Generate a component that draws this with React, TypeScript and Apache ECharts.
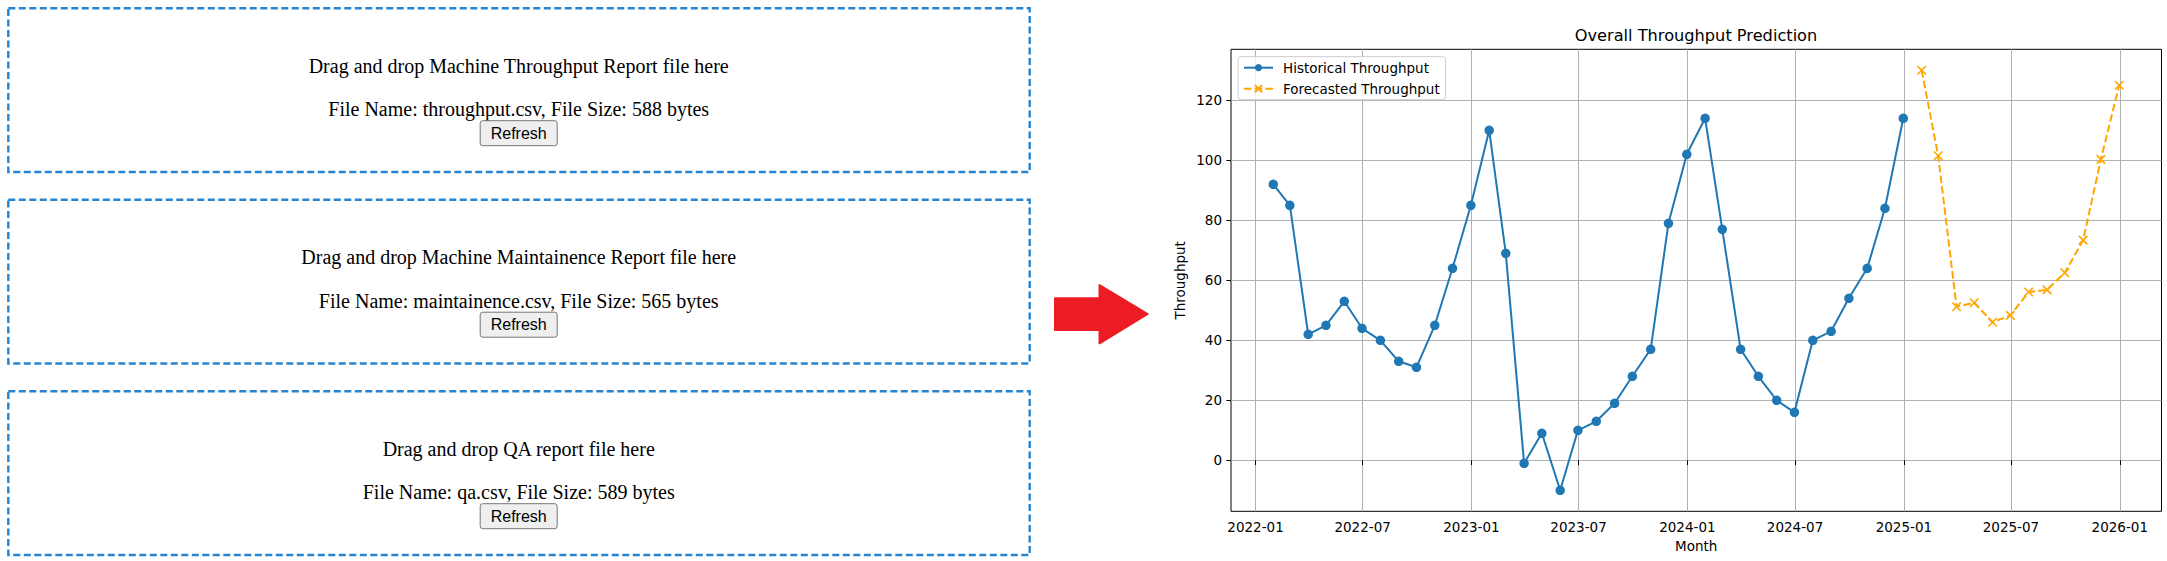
import React, { useEffect, useRef } from "react";
import * as echarts from "echarts";

// ---- Data ----
const histMonths = [
  "2022-01", "2022-02", "2022-03", "2022-04", "2022-05", "2022-06",
  "2022-07", "2022-08", "2022-09", "2022-10", "2022-11", "2022-12",
  "2023-01", "2023-02", "2023-03", "2023-04", "2023-05", "2023-06",
  "2023-07", "2023-08", "2023-09", "2023-10", "2023-11", "2023-12",
  "2024-01", "2024-02", "2024-03", "2024-04", "2024-05", "2024-06",
  "2024-07", "2024-08", "2024-09", "2024-10", "2024-11", "2024-12",
];
const histValues = [
  92, 85, 42, 45, 53, 44, 40, 33, 31, 45, 64, 85,
  110, 69, -1, 9, -10, 10, 13, 19, 28, 37, 79, 102,
  114, 77, 37, 28, 20, 16, 40, 43, 54, 64, 84, 114,
];
const forecastMonths = [
  "2025-01", "2025-02", "2025-03", "2025-04", "2025-05", "2025-06",
  "2025-07", "2025-08", "2025-09", "2025-10", "2025-11", "2025-12",
];
const forecastValues = [130, 101.5, 51.2, 52.5, 46, 48.3, 56.1, 56.8, 62.5, 73.4, 100.3, 125];

const xTickLabels = [
  "2022-01", "2022-07", "2023-01", "2023-07", "2024-01",
  "2024-07", "2025-01", "2025-07", "2026-01",
];
const yTicks = [0, 20, 40, 60, 80, 100, 120];

const uploadTitles = [
  "Drag and drop Machine Throughput Report file here",
  "Drag and drop Machine Maintainence Report file here",
  "Drag and drop QA report file here",
];
const uploadFiles = ["throughput.csv", "maintainence.csv", "qa.csv"];
const uploadSizes = [588, 565, 589];

const monthEnd = (ym: string) => {
  const [y, m] = ym.split("-").map(Number);
  return Date.UTC(y, m, 0);
};
const monthStart = (ym: string) => {
  const [y, m] = ym.split("-").map(Number);
  return Date.UTC(y, m - 1, 1);
};
const fmt = (v: number) => {
  const d = new Date(v);
  return `${d.getUTCFullYear()}-${String(d.getUTCMonth() + 1).padStart(2, "0")}`;
};

export default function App() {
  const ref = useRef<HTMLDivElement>(null);
  useEffect(() => {
    if (!ref.current) return;
    const chart = echarts.init(ref.current, undefined, { renderer: "svg" });

    const histData = histMonths.map((m, i) => [monthEnd(m), histValues[i]]);
    const fcData = forecastMonths.map((m, i) => [monthEnd(m), forecastValues[i]]);
    const first = histData[0][0] as number;
    const last = fcData[fcData.length - 1][0] as number;
    const span = last - first;
    const xMin = first - 0.05 * span;
    const xMax = last + 0.05 * span;
    const xTicks = xTickLabels.map(monthStart);

    const allVals = histValues.concat(forecastValues);
    const vMin = Math.min(...allVals);
    const vMax = Math.max(...allVals);
    const yMin = vMin - 0.05 * (vMax - vMin);
    const yMax = vMax + 0.05 * (vMax - vMin);

    const font = "DejaVu Sans";
    const graphics: any[] = [];
    const tops = [8.3, 199.8, 391.3];
    const cx = 518.7;
    uploadTitles.forEach((t, i) => {
      const top = tops[i];
      graphics.push({
        type: "rect",
        shape: { x: 8.3, y: top, width: 1021.4, height: 163.7 },
        style: { fill: "none", stroke: "#2784d0", lineWidth: 2.4, lineDash: [7, 3.5] },
      });
      graphics.push({
        type: "text",
        x: cx,
        y: top + 57.5,
        style: {
          text: t,
          align: "center",
          verticalAlign: "middle",
          fontSize: 20,
          fontFamily: "Liberation Serif",
          fill: "#000",
        },
      });
      graphics.push({
        type: "text",
        x: cx,
        y: top + 100.8,
        style: {
          text: `File Name: ${uploadFiles[i]}, File Size: ${uploadSizes[i]} bytes`,
          align: "center",
          verticalAlign: "middle",
          fontSize: 20,
          fontFamily: "Liberation Serif",
          fill: "#000",
        },
      });
      graphics.push({
        type: "rect",
        shape: { x: cx - 38.5, y: top + 112.4, width: 77, height: 25, r: 2.5 },
        style: { fill: "#efefef", stroke: "#767676", lineWidth: 1 },
      });
      graphics.push({
        type: "text",
        x: cx,
        y: top + 125,
        style: {
          text: "Refresh",
          align: "center",
          verticalAlign: "middle",
          fontSize: 16,
          fontFamily: "Liberation Sans",
          fill: "#000",
        },
      });
    });
    graphics.push({
      type: "polygon",
      shape: {
        points: [
          [1055, 298.3], [1099.5, 298.3], [1099.5, 285], [1147.7, 314],
          [1099.5, 343.3], [1099.5, 330], [1055, 330],
        ],
      },
      style: { fill: "#ed1c24", stroke: "#ed1c24", lineWidth: 2, lineJoin: "round" },
    });
    graphics.push({
      type: "text",
      x: 1696,
      y: 35,
      style: {
        text: "Overall Throughput Prediction",
        align: "center",
        verticalAlign: "middle",
        fontSize: 16.2,
        fontFamily: font,
        fill: "#000",
      },
    });

    chart.setOption({
      animation: false,
      backgroundColor: "#ffffff",
      grid: {
        left: 1231,
        right: 5.5,
        top: 49.3,
        bottom: 49.7,
        show: true,
        borderColor: "#000",
        borderWidth: 1,
        backgroundColor: "transparent",
        containLabel: false,
      },
      legend: {
        data: ["Historical Throughput", "Forecasted Throughput"],
        orient: "vertical",
        left: 1238,
        top: 56.7,
        itemWidth: 29,
        itemHeight: 9,
        itemGap: 7,
        padding: [4, 6, 4, 5],
        backgroundColor: "rgba(255,255,255,0.8)",
        borderColor: "#cccccc",
        borderWidth: 1,
        borderRadius: 3,
        textStyle: { fontSize: 13.5, fontFamily: font, color: "#000", padding: [0, 0, 0, 5] },
      },
      xAxis: {
        type: "value",
        min: xMin,
        max: xMax,
        name: "Month",
        nameLocation: "middle",
        nameGap: 28,
        nameTextStyle: { fontSize: 13.5, fontFamily: font, color: "#000" },
        axisLine: { show: false },
        axisTick: { show: true, customValues: xTicks, length: 4.7, lineStyle: { color: "#000", width: 1 } },
        axisLabel: {
          customValues: xTicks,
          formatter: (v: number) => fmt(v),
          fontSize: 13.5,
          fontFamily: font,
          color: "#000",
          margin: 9,
        },
        splitLine: { show: true, lineStyle: { color: "#b0b0b0", width: 1 } },
      },
      yAxis: {
        type: "value",
        min: yMin,
        max: yMax,
        name: "Throughput",
        nameLocation: "middle",
        nameGap: 44,
        nameTextStyle: { fontSize: 13.5, fontFamily: font, color: "#000" },
        axisLine: { show: false },
        axisTick: { show: true, customValues: yTicks, length: 4.7, lineStyle: { color: "#000", width: 1 } },
        axisLabel: {
          customValues: yTicks,
          fontSize: 13.5,
          fontFamily: font,
          color: "#000",
          margin: 9,
        },
        splitLine: { show: true, lineStyle: { color: "#b0b0b0", width: 1 } },
      },
      series: [
        {
          name: "Historical Throughput",
          type: "line",
          data: histData,
          color: "#1f77b4",
          symbol: "circle",
          symbolSize: 9.5,
          showSymbol: true,
          lineStyle: { width: 2, color: "#1f77b4" },
          itemStyle: { color: "#1f77b4" },
          z: 3,
        },
        {
          name: "Forecasted Throughput",
          type: "line",
          data: fcData,
          color: "#ffa500",
          symbol: "path://M0,0L10,10M10,0L0,10",
          symbolSize: 8.5,
          showSymbol: true,
          lineStyle: { width: 2, color: "#ffa500", type: [7.5, 3.2] },
          itemStyle: { color: "#ffa500", borderColor: "#ffa500", borderWidth: 1.6 },
          z: 3,
        },
      ],
      graphic: graphics,
    });
    return () => chart.dispose();
  }, []);
  return (
    <div
      ref={ref}
      style={{ position: "absolute", left: 0, top: 0, width: 2167, height: 561, background: "#fff" }}
    />
  );
}
